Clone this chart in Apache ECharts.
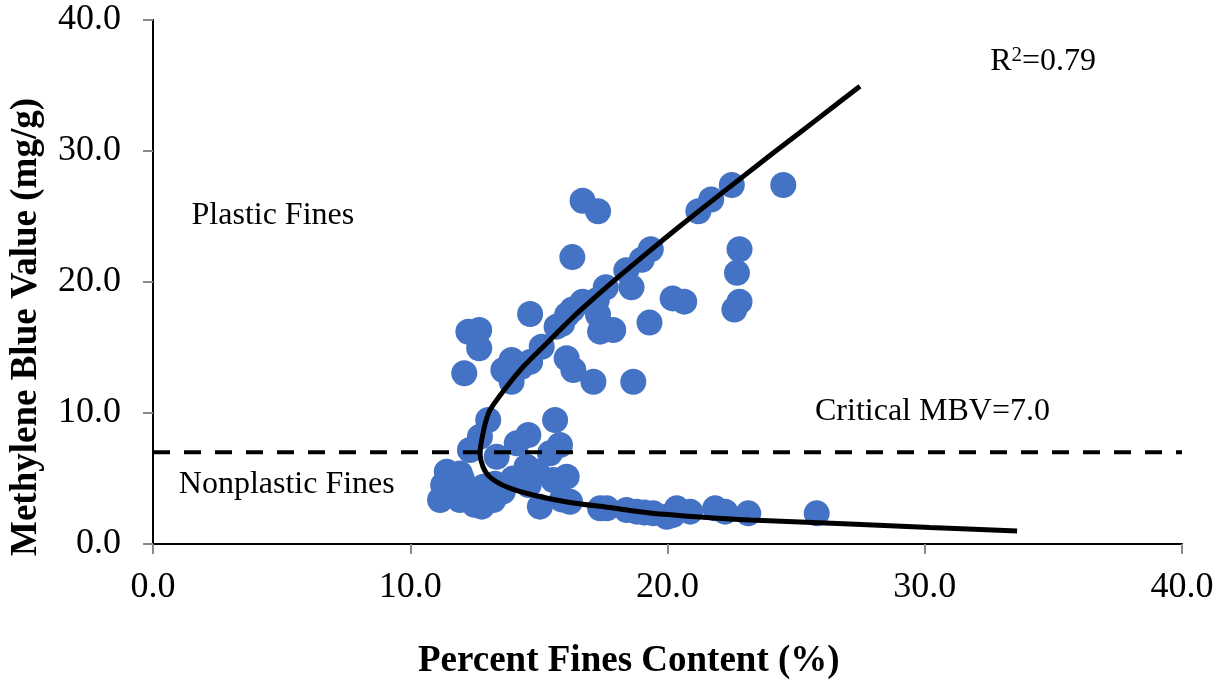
<!DOCTYPE html>
<html>
<head>
<meta charset="utf-8">
<script src="https://cdn.jsdelivr.net/npm/echarts@6/dist/echarts.min.js"></script>
<style>html,body{margin:0;padding:0;background:#fff;}#c{width:1228px;height:680px;}</style>
</head>
<body>
<div id="c"></div>
<script>
// ---- data ----
var xTicks = [0, 10, 20, 30, 40];
var yTicks = [0, 10, 20, 30, 40];

// measured points: [percent fines, MBV]
var plasticPoints = [
  [16.7, 26.2], [17.3, 25.4], [24.5, 27.4], [22.5, 27.4], [21.7, 26.3], [21.2, 25.4],
  [22.8, 22.5], [22.7, 20.7], [22.8, 18.5], [22.6, 17.9],
  [16.3, 21.9], [19.35, 22.5], [19.0, 21.7], [18.4, 20.9], [17.6, 19.6], [17.25, 18.6],
  [18.6, 19.6], [16.7, 18.5], [16.3, 17.9], [16.1, 17.5], [17.3, 17.5],
  [20.2, 18.75], [20.65, 18.5], [19.3, 16.9], [14.66, 17.56],
  [12.26, 16.2], [12.68, 16.34], [12.68, 14.94], [12.1, 13.03],
  [13.94, 14.05], [13.62, 13.28], [13.94, 12.39], [14.66, 13.9], [15.11, 15.06],
  [15.69, 16.59], [16.08, 14.18], [16.34, 13.28], [17.12, 12.39], [18.67, 12.39],
  [17.38, 16.21], [17.89, 16.34], [15.9, 16.8], [14.3, 13.5]
];
var nonplasticPoints = [
  [13.03, 9.47], [15.63, 9.47], [12.71, 8.19], [12.32, 7.18], [14.59, 8.32], [14.14, 7.69],
  [15.82, 7.56], [15.43, 6.92], [13.36, 6.66], [11.42, 5.52], [11.93, 5.39], [11.28, 4.50],
  [11.16, 3.36], [11.93, 3.36], [12.78, 2.85], [13.23, 3.36], [12.84, 4.37], [13.3, 4.6],
  [14.52, 5.90], [14.92, 5.52], [16.08, 5.14], [15.56, 4.89], [15.04, 2.85], [16.21, 3.23],
  [17.38, 2.72], [17.64, 2.72], [18.41, 2.60], [18.80, 2.47], [19.45, 2.34], [19.97, 2.08],
  [20.36, 2.72], [20.88, 2.47], [21.85, 2.72], [22.24, 2.47], [23.14, 2.34], [25.80, 2.34],
  [12.2, 4.0], [12.5, 3.0], [13.6, 4.0], [14.0, 5.0], [14.6, 4.5], [15.9, 3.4],
  [19.1, 2.4], [20.2, 2.2], [12.0, 5.0]
];

// trend curve: [percent fines, MBV]
var trendCurve = [
  [33.59, 0.99], [30.2, 1.26], [27.09, 1.53], [23.21, 1.83], [21.26, 2.06], [19.32, 2.37],
  [17.88, 2.75], [16.09, 3.21], [14.77, 3.74], [13.76, 4.35], [13.10, 5.11], [12.83, 5.88],
  [12.71, 6.95], [12.80, 8.17], [12.93, 9.30], [13.10, 10.23], [13.75, 12.01], [14.39, 13.53],
  [15.04, 14.81], [15.69, 16.08], [16.34, 17.35], [16.99, 18.50], [18.15, 20.48],
  [19.32, 22.40], [20.49, 24.27], [21.65, 26.08], [22.82, 27.87], [23.98, 29.66],
  [25.15, 31.42], [26.32, 33.18], [27.48, 34.95]
];

var criticalMBV = 7.0;
var criticalLine = [[0, criticalMBV], [40, criticalMBV]];

var annotations = [
  [4.66, 25.1, 'Plastic Fines'],
  [5.2, 4.5, 'Nonplastic Fines'],
  [30.3, 10.1, 'Critical MBV=7.0'],
  [34.6, 36.8, '{n|R}{sup|2}{n|=0.79}']
];

var FONT = '"Liberation Serif", "Times New Roman", serif';
var GRAY = '#898989';

var chart = echarts.init(document.getElementById('c'));
var allPoints = plasticPoints.concat(nonplasticPoints);

chart.setOption({
  animation: false,
  backgroundColor: '#fff',
  grid: { left: 153, right: 46, top: 20, bottom: 136, containLabel: false },
  xAxis: [{
    type: 'value', min: 0, max: 40, interval: 10,
    axisLine: { show: true, onZero: false, lineStyle: { color: GRAY, width: 2 } },
    axisTick: { show: true, inside: false, length: 10, lineStyle: { color: GRAY, width: 2 } },
    axisLabel: { margin: 26, color: '#000', fontFamily: FONT, fontSize: 36,
      formatter: function (v) { return v.toFixed(1); } },
    splitLine: { show: false }
  }, {
    type: 'value', min: 0, max: 40, position: 'top',
    axisLine: { show: true, lineStyle: { color: '#000', width: 2 } },
    axisTick: { show: false }, axisLabel: { show: false }, splitLine: { show: false }
  }],
  yAxis: [{
    type: 'value', min: 0, max: 40, interval: 10,
    axisLine: { show: true, onZero: false, lineStyle: { color: GRAY, width: 2 } },
    axisTick: { show: true, inside: false, length: 10, lineStyle: { color: GRAY, width: 2 } },
    axisLabel: { margin: 32, color: '#000', fontFamily: FONT, fontSize: 36,
      formatter: function (v) { return v.toFixed(1); } },
    splitLine: { show: false }
  }, {
    type: 'value', min: 0, max: 40, position: 'right',
    axisLine: { show: true, lineStyle: { color: '#000', width: 2 } },
    axisTick: { show: false }, axisLabel: { show: false }, splitLine: { show: false }
  }],
  series: [
    {
      name: 'MBV', type: 'scatter', data: allPoints, symbol: 'circle', symbolSize: 26,
      itemStyle: { color: '#4472C4', opacity: 1 }, z: 2
    },
    {
      name: 'Critical', type: 'line', data: criticalLine, symbol: 'none',
      lineStyle: { color: '#000', width: 4, type: [17, 14] }, z: 3
    },
    {
      name: 'Trend', type: 'line', data: trendCurve, symbol: 'none', smooth: 0.3,
      lineStyle: { color: '#000', width: 5 }, z: 4
    }
  ]
});

var notes = annotations.map(function (a) {
  var p = chart.convertToPixel({ xAxisIndex: 0, yAxisIndex: 0 }, [a[0], a[1]]);
  return {
    type: 'text', x: p[0], y: p[1], z: 10,
    style: {
      text: a[2], font: '32px ' + FONT, fill: '#000', align: 'center', verticalAlign: 'middle',
      rich: {
        n: { font: '32px ' + FONT, fill: '#000' },
        sup: { font: '21px ' + FONT, fill: '#000', verticalAlign: 'top', padding: [0, 0, 12, 0] }
      }
    }
  };
});

chart.setOption({
  graphic: notes.concat([
    { type: 'text', x: 418, y: 643, z: 10,
      style: { text: 'Percent Fines Content (%)', font: 'bold 37px ' + FONT, fill: '#000' } },
    { type: 'text', rotation: Math.PI / 2, x: 8, y: 556, z: 10,
      style: { text: 'Methylene Blue Value (mg/g)', font: 'bold 37px ' + FONT, fill: '#000' } }
  ])
});
</script>
</body>
</html>
